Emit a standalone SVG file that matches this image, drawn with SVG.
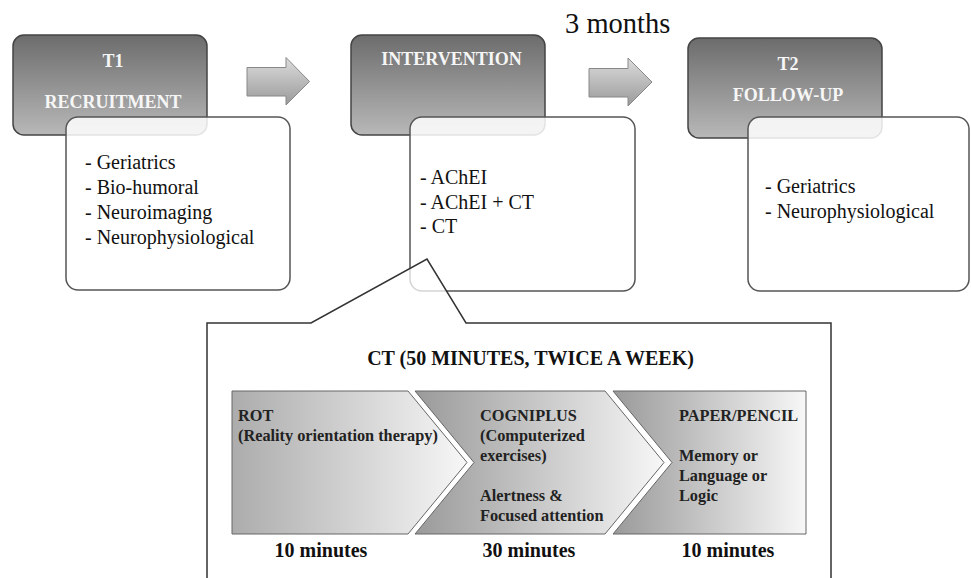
<svg xmlns="http://www.w3.org/2000/svg" width="971" height="578" viewBox="0 0 971 578">
<defs>
<linearGradient id="gDark" x1="0" y1="0" x2="0" y2="1">
<stop offset="0" stop-color="#6c6c6c"/>
<stop offset="1" stop-color="#b8b8b8"/>
</linearGradient>
<linearGradient id="gArrow" x1="0" y1="0" x2="0" y2="1">
<stop offset="0" stop-color="#dcdcdc"/>
<stop offset="1" stop-color="#9a9a9a"/>
</linearGradient>
<linearGradient id="gChev1" x1="0" y1="0" x2="1" y2="0">
<stop offset="0" stop-color="#acacac"/>
<stop offset="1" stop-color="#f7f7f7"/>
</linearGradient>
<linearGradient id="gChev" x1="0" y1="0" x2="1" y2="0">
<stop offset="0" stop-color="#9a9a9a"/>
<stop offset="1" stop-color="#f7f7f7"/>
</linearGradient>
</defs>
<style>
.dark{fill:url(#gDark);stroke:#444;stroke-width:1.5}
.white{fill:#fff;fill-opacity:0.85;stroke:#555;stroke-width:1.5}
.arrow{fill:url(#gArrow);stroke:#888;stroke-width:1}
.hd{font-family:"Liberation Serif","Times New Roman",serif;font-weight:bold;font-size:18px;fill:#f6f6f6;text-anchor:middle}
.lst{font-family:"Liberation Serif","Times New Roman",serif;font-size:20px;fill:#111}
.chev{stroke:#666;stroke-width:1}
.ct{font-family:"Liberation Serif","Times New Roman",serif;font-weight:bold;font-size:16.3px;fill:#222}
.big{font-family:"Liberation Serif","Times New Roman",serif;font-weight:bold;font-size:20px;fill:#111}
</style>
<rect width="971" height="578" fill="#fff"/>

<text x="565" y="33" font-family="Liberation Serif, Times New Roman, serif" font-size="28.5" fill="#111">3 months</text>

<g id="t1">
<rect class="dark" x="13" y="35" width="194" height="100" rx="11"/>
<text class="hd" x="113" y="67">T1</text>
<text class="hd" x="113" y="108">RECRUITMENT</text>
</g>
<g id="t1-box">
<rect class="white" x="66" y="117" width="224" height="173" rx="12"/>
<text class="lst" x="85" y="169">- Geriatrics</text>
<text class="lst" x="85" y="194">- Bio-humoral</text>
<text class="lst" x="85" y="219">- Neuroimaging</text>
<text class="lst" x="85" y="244">- Neurophysiological</text>
</g>

<g id="intervention">
<rect class="dark" x="351" y="35" width="194" height="100" rx="11"/>
<text class="hd" x="451.5" y="65">INTERVENTION</text>
</g>
<g id="intervention-box">
<rect class="white" x="410" y="117" width="225" height="174" rx="12"/>
<text class="lst" x="420" y="184">- AChEI</text>
<text class="lst" x="420" y="208.5">- AChEI  + CT</text>
<text class="lst" x="420" y="233">- CT</text>
</g>

<g id="t2">
<rect class="dark" x="688" y="38" width="194" height="100" rx="11"/>
<text class="hd" x="788" y="70">T2</text>
<text class="hd" x="788" y="101">FOLLOW-UP</text>
</g>
<g id="t2-box">
<rect class="white" x="748" y="117" width="221" height="174" rx="12"/>
<text class="lst" x="765" y="193">- Geriatrics</text>
<text class="lst" x="765" y="218">- Neurophysiological</text>
</g>

<g id="connectors">
<path class="arrow" d="M247,67.5 H286 V57.5 L309.5,81.5 L286,105 V96 H247 Z"/>
<path class="arrow" d="M589,68.5 H628 V58 L652,82 L628,106 V97 H589 Z"/>
</g>

<g id="ct-callout">
<path d="M207,590 V323 H311 L427,259 L466,323 H831 V590" fill="#fff" fill-opacity="0.75" stroke="#333" stroke-width="1.5"/>
<text class="big" x="530.5" y="365" text-anchor="middle" font-size="20.3">CT (50 MINUTES, TWICE A WEEK)</text>
</g>

<g id="rot">
<path class="chev" d="M232,391 H408 L467,462.5 L408,534 H232 Z" fill="url(#gChev1)"/>
<text class="ct" x="238" y="421">ROT</text>
<text class="ct" x="238" y="441">(Reality orientation therapy)</text>
<text class="big" x="321" y="557" text-anchor="middle">10 minutes</text>
</g>

<g id="cogniplus">
<path class="chev" d="M415,391 H605 L664,462.5 L605,534 H415 L474,462.5 Z" fill="url(#gChev)"/>
<text class="ct" x="480" y="421">COGNIPLUS</text>
<text class="ct" x="480" y="441">(Computerized</text>
<text class="ct" x="480" y="461">exercises)</text>
<text class="ct" x="480" y="501">Alertness &amp;</text>
<text class="ct" x="480" y="521">Focused attention</text>
<text class="big" x="529" y="557" text-anchor="middle">30 minutes</text>
</g>

<g id="paper-pencil">
<path class="chev" d="M613,391 H806 V534 H613 L672,462.5 Z" fill="url(#gChev)"/>
<text class="ct" x="679" y="421">PAPER/PENCIL</text>
<text class="ct" x="679" y="461">Memory or</text>
<text class="ct" x="679" y="481">Language or</text>
<text class="ct" x="679" y="501">Logic</text>
<text class="big" x="728" y="557" text-anchor="middle">10 minutes</text>
</g>
</svg>
